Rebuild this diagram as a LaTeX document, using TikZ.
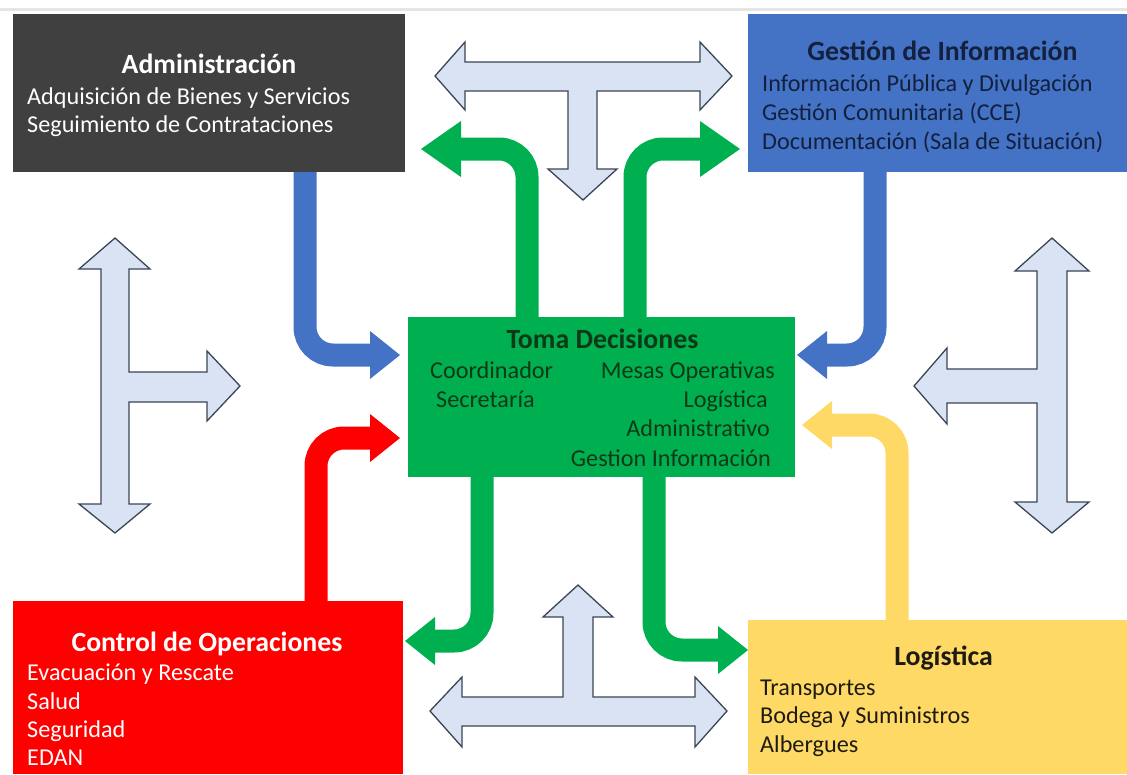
\documentclass[tikz,border=0pt]{standalone}
\usepackage{fontspec}
\setmainfont{Carlito}
\usetikzlibrary{arrows.meta,calc,backgrounds}
\definecolor{admgray}{HTML}{404040}
\definecolor{infoblue}{HTML}{4472C4}
\definecolor{tomagreen}{HTML}{00B050}
\definecolor{opsred}{HTML}{FF0000}
\definecolor{logyellow}{HTML}{FFD966}
\definecolor{infotext}{HTML}{13213F}
\definecolor{tomatext}{HTML}{0E3818}
\definecolor{logtext}{HTML}{1E1B12}
\definecolor{syncfill}{HTML}{DAE3F3}
\definecolor{syncline}{HTML}{3A4556}
\tikzset{
  areabox/.style={anchor=north west, inner sep=0pt, outer sep=0pt},
  areatitle/.style={font=\bfseries\fontsize{27.8}{33}\selectfont, inner sep=0pt, text height=19pt, text depth=3pt},
  arealine/.style={font=\fontsize{24.2}{29}\selectfont, inner sep=0pt, text height=17pt, text depth=3pt},
  flowedge/.style={line width=23pt, rounded corners=28pt, -{Triangle[length=30pt,width=48pt,line width=0pt]}},
  wideflow/.style={flowedge, -{Triangle[length=40pt,width=56pt,line width=0pt]}},
  syncarrow/.style={draw=syncline, fill=syncfill, line width=1.3pt, line join=miter},
}
\begin{document}
\begin{tikzpicture}[x=1pt,y=-1pt]
        \useasboundingbox (0,0) rectangle (1127,774);
        \draw [gray!20, line width=3pt] (0,9) -- (1127,9);

        % areas
        \node (adm) at (13,14) [areabox, fill=admgray, minimum width=392pt, minimum height=158pt] {};
        \node (gest) at (748,14) [areabox, fill=infoblue, minimum width=379pt, minimum height=158pt] {};
        \node (toma) at (408,317) [areabox, fill=tomagreen, minimum width=387pt, minimum height=160pt] {};
        \node (ctrl) at (13,601) [areabox, fill=opsred, minimum width=390pt, minimum height=173pt] {};
        \node (logi) at (748,620) [areabox, fill=logyellow, minimum width=379pt, minimum height=154pt] {};

        \node (adm-t) at ($(adm.north) + (0,51)$) [areatitle, white] {Administración};
        \node (adm-1) at ($(adm.north west) + (14,83)$) [arealine, white, anchor=west] {Adquisición de Bienes y Servicios};
        \node (adm-2) at ($(adm.north west) + (14,111)$) [arealine, white, anchor=west] {Seguimiento de Contrataciones};

        \node (gest-t) at ($(gest.north) + (5,38)$) [areatitle, infotext] {Gestión de Información};
        \node (gest-1) at ($(gest.north west) + (14,70)$) [arealine, infotext, anchor=west] {Información Pública y Divulgación};
        \node (gest-2) at ($(gest.north west) + (14,99)$) [arealine, infotext, anchor=west] {Gestión Comunitaria (CCE)};
        \node (gest-3) at ($(gest.north west) + (14,128)$) [arealine, infotext, anchor=west] {Documentación (Sala de Situación)};

        \node (toma-t) at ($(toma.north) + (1,23)$) [areatitle, tomatext] {Toma Decisiones};
        \node (toma-1) at ($(toma.north west) + (22,54)$) [arealine, tomatext, anchor=west] {Coordinador};
        \node (toma-2) at ($(toma.north west) + (28,83)$) [arealine, tomatext, anchor=west] {Secretaría};
        \node (toma-3) at ($(toma.north east) + (-20,54)$) [arealine, tomatext, anchor=east] {Mesas Operativas};
        \node (toma-4) at ($(toma.north east) + (-27,83)$) [arealine, tomatext, anchor=east] {Logística};
        \node (toma-5) at ($(toma.north east) + (-25,112)$) [arealine, tomatext, anchor=east] {Administrativo};
        \node (toma-6) at ($(toma.north east) + (-24,142)$) [arealine, tomatext, anchor=east] {Gestion Información};

        \node (ctrl-t) at ($(ctrl.north) + (-1,42)$) [areatitle, white] {Control de Operaciones};
        \node (ctrl-1) at ($(ctrl.north west) + (14,72)$) [arealine, white, anchor=west] {Evacuación y Rescate};
        \node (ctrl-2) at ($(ctrl.north west) + (14,101)$) [arealine, white, anchor=west] {Salud};
        \node (ctrl-3) at ($(ctrl.north west) + (14,129)$) [arealine, white, anchor=west] {Seguridad};
        \node (ctrl-4) at ($(ctrl.north west) + (14,157)$) [arealine, white, anchor=west] {EDAN};

        \node (logi-t) at ($(logi.north) + (6,37)$) [areatitle, logtext] {Logística};
        \node (logi-1) at ($(logi.north west) + (12,68)$) [arealine, logtext, anchor=west] {Transportes};
        \node (logi-2) at ($(logi.north west) + (12,96)$) [arealine, logtext, anchor=west] {Bodega y Suministros};
        \node (logi-3) at ($(logi.north west) + (12,125)$) [arealine, logtext, anchor=west] {Albergues};

        \begin{scope}[on background layer]
          \draw [flowedge, infoblue] ($(adm.south west) + (292,-2)$) |- ($(toma.north west) + (-8,38)$);
          \draw [flowedge, infoblue] ($(gest.south west) + (127,-2)$) |- ($(toma.north east) + (2,38)$);
          \draw [flowedge, opsred] ($(ctrl.north west) + (303,2)$) |- ($(toma.north west) + (-8,121)$);
          \draw [flowedge, logyellow] ($(logi.north west) + (149,2)$) |- ($(toma.north east) + (7,108)$);

          \draw [wideflow, tomagreen] ($(toma.north west) + (119,2)$) |- ($(adm.north east) + (16,135)$);
          \draw [wideflow, tomagreen] ($(toma.north west) + (227,2)$) |- ($(gest.north west) + (-8,135)$);
          \draw [flowedge, tomagreen] ($(toma.south west) + (74,-2)$) |- ($(ctrl.north east) + (2,40)$);
          \draw [flowedge, tomagreen] ($(toma.south west) + (246,-2)$) |- ($(logi.north west) + (0,30)$);
        \end{scope}

        % shared links
        \draw [syncarrow] (435,76) -- (465,42) -- (465,62) -- (700,62) -- (700,42) -- (732,76)
          -- (700,110) -- (700,91) -- (597,91) -- (597,169) -- (617,169) -- (583,200)
          -- (548,169) -- (568,169) -- (568,91) -- (465,91) -- (465,110) -- cycle;
        \draw [syncarrow] (430,711) -- (462,677) -- (462,697) -- (563,697) -- (563,617) -- (543,617)
          -- (578,585) -- (613,617) -- (593,617) -- (593,697) -- (695,697) -- (695,677)
          -- (727,711) -- (695,747) -- (695,726) -- (462,726) -- (462,747) -- cycle;
        \draw [syncarrow] (115,238) -- (150,269) -- (129,269) -- (129,372) -- (207,372) -- (207,351)
          -- (240,386) -- (207,421) -- (207,402) -- (129,402) -- (129,504) -- (150,504)
          -- (115,533) -- (79,504) -- (101,504) -- (101,269) -- (79,269) -- cycle;
        \draw [syncarrow] (1052,238) -- (1089,271) -- (1067,271) -- (1067,502) -- (1089,502) -- (1052,533)
          -- (1015,502) -- (1037,502) -- (1037,403) -- (947,403) -- (947,424) -- (914,386)
          -- (947,348) -- (947,369) -- (1037,369) -- (1037,271) -- (1015,271) -- cycle;
\end{tikzpicture}
\end{document}
